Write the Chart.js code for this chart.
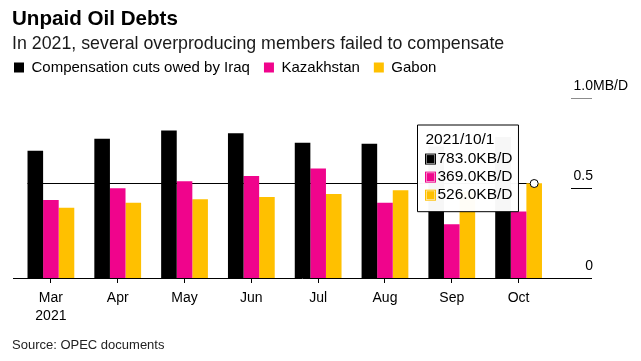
<!DOCTYPE html>
<html>
<head>
<meta charset="utf-8">
<script src="https://cdn.jsdelivr.net/npm/chart.js@4/dist/chart.umd.min.js"></script>
<style>
  html, body { margin: 0; padding: 0; background: #fff; }
  #wrap { position: relative; width: 641px; height: 361px; overflow: hidden; background: #fff; }
  #c { position: absolute; left: 0; top: 0; }
  .txt { position: absolute; left: 12px; white-space: nowrap; font-family: 'Liberation Sans', Arial, sans-serif; color: #000; }
  #title { top: 7px; font-size: 20.6px; font-weight: bold; line-height: 21px; }
  #subtitle { top: 34px; font-size: 17.8px; line-height: 18px; color: #1a1a1a; }
  #source { top: 338px; font-size: 13px; line-height: 13px; color: #222; }
</style>
</head>
<body>
<div id="wrap">
  <canvas id="c" width="641" height="361"></canvas>
  <div class="txt" id="title">Unpaid Oil Debts</div>
  <div class="txt" id="subtitle">In 2021, several overproducing members failed to compensate</div>
  <div class="txt" id="source">Source: OPEC documents</div>
</div>
<script>
// ---- data (KB/D) ----
const months = ['Mar', 'Apr', 'May', 'Jun', 'Jul', 'Aug', 'Sep', 'Oct'];
const yearLabel = '2021';
const dates = ['2021/3/1', '2021/4/1', '2021/5/1', '2021/6/1', '2021/7/1', '2021/8/1', '2021/9/1', '2021/10/1'];
const seriesNames = ['Compensation cuts owed by Iraq', 'Kazakhstan', 'Gabon'];
const iraq = [707, 774, 820, 804, 752, 746, 730, 783];
const kazakhstan = [433, 498, 537, 567, 609, 418, 298, 369];
const gabon = [390, 418, 437, 450, 467, 487, 480, 526];
const yTicks = [0, 500, 1000];
const yTickLabels = ['0', '0.5', '1.0'];
const yUnit = 'MB/D';
const hoverIndex = 7;
const hoverSeries = 2;

const colors = ['#000000', '#f0048c', '#ffc000'];
const FONT = "'Liberation Sans', Arial, sans-serif";

Chart.Tooltip.positioners.boxLeft = function (elements) {
  if (!elements.length) return false;
  const el = elements[0].element;
  const ca = this.chart.chartArea;
  return { x: el.x - 85.5, y: ca.top + 27 };
};

const decor = {
  id: 'decor',
  beforeDatasetsDraw(chart) {
    const ctx = chart.ctx;
    const first = chart.getDatasetMeta(0).data[0];
    const pt = chart.getDatasetMeta(hoverSeries).data[hoverIndex];
    ctx.save();
    ctx.strokeStyle = '#000';
    ctx.lineWidth = 1;
    ctx.beginPath();
    const cy = Math.round(pt.y) + 0.5;
    ctx.moveTo(first.x - first.width / 2, cy);
    ctx.lineTo(pt.x, cy);
    ctx.stroke();
    ctx.restore();
  },
  afterDatasetsDraw(chart) {
    const ctx = chart.ctx;
    const y = chart.scales.y;
    ctx.save();
    const y0 = Math.round(y.getPixelForValue(0)) + 0.5;
    ctx.strokeStyle = '#000';
    ctx.lineWidth = 1;
    ctx.beginPath();
    ctx.moveTo(13, y0);
    ctx.lineTo(592, y0);
    ctx.stroke();
    ctx.font = '14px ' + FONT;
    ctx.fillStyle = '#000';
    ctx.textBaseline = 'alphabetic';
    yTicks.forEach((v, i) => {
      const py = Math.round(y.getPixelForValue(v)) + 0.5;
      if (v !== 0) {
        ctx.strokeStyle = i === yTicks.length - 1 ? '#8c8c8c' : '#000';
        ctx.beginPath();
        ctx.moveTo(571, py);
        ctx.lineTo(592, py);
        ctx.stroke();
      }
      ctx.textAlign = 'right';
      ctx.fillText(yTickLabels[i], 593, py - 8.5);
      if (i === yTicks.length - 1) {
        ctx.textAlign = 'left';
        ctx.fillText(yUnit, 593, py - 8.5);
      }
    });
    const pt = chart.getDatasetMeta(hoverSeries).data[hoverIndex];
    const cy = Math.round(pt.y) + 0.5;
    ctx.beginPath();
    ctx.arc(pt.x, cy, 4, 0, Math.PI * 2);
    ctx.fillStyle = '#fff';
    ctx.fill();
    ctx.strokeStyle = '#000';
    ctx.lineWidth = 1;
    ctx.stroke();
    ctx.restore();
  }
};

const hiddenAxis = (pos, size) => ({
  type: 'linear',
  position: pos,
  display: true,
  ticks: { display: false },
  grid: { display: false },
  border: { display: false },
  afterFit(scale) {
    if (pos === 'left' || pos === 'right') scale.width = size; else scale.height = size;
  }
});

const datasets = [iraq, kazakhstan, gabon].map((d, i) => ({
  label: seriesNames[i],
  data: d,
  backgroundColor: colors[i],
  hoverBackgroundColor: colors[i],
  borderWidth: 0,
  categoryPercentage: 0.7,
  barPercentage: 1.0,
  xAxisID: 'x',
  yAxisID: 'y'
}));

const chart = new Chart(document.getElementById('c'), {
  type: 'bar',
  data: { labels: months, datasets },
  options: {
    responsive: false,
    devicePixelRatio: 1,
    animation: false,
    events: [],
    layout: { padding: { left: 0, right: 0, top: 46, bottom: 0 } },
    scales: {
      x: {
        type: 'category',
        position: 'bottom',
        offset: true,
        grid: { display: true, drawOnChartArea: false, drawTicks: true, tickLength: 5, tickColor: '#000', offset: false, lineWidth: 1 },
        border: { display: false },
        ticks: {
          color: '#000',
          font: { family: FONT, size: 14, lineHeight: 1.3 },
          padding: 6,
          maxRotation: 0,
          autoSkip: false,
          callback: (v, i) => i === 0 ? [months[i], yearLabel] : months[i]
        },
        afterFit(scale) { scale.height = 83; }
      },
      y: {
        type: 'linear',
        position: 'right',
        min: 0,
        max: 1000,
        display: true,
        ticks: { display: false },
        grid: { display: false },
        border: { display: false },
        afterFit(scale) { scale.width = 89; }
      },
      yL: hiddenAxis('left', 17.5),
      xT: hiddenAxis('top', 13)
    },
    plugins: {
      legend: {
        position: 'top',
        align: 'start',
        labels: {
          boxWidth: 10,
          boxHeight: 10,
          padding: 14,
          color: '#000',
          font: { family: FONT, size: 15 }
        }
      },
      title: { display: false },
      tooltip: {
        enabled: true,
        position: 'boxLeft',
        xAlign: 'left',
        yAlign: 'top',
        caretSize: 0,
        caretPadding: 0,
        cornerRadius: 0,
        backgroundColor: 'rgba(255,255,255,0.97)',
        borderColor: '#000',
        borderWidth: 1,
        titleColor: '#000',
        bodyColor: '#000',
        titleFont: { family: FONT, size: 15.5, weight: 'normal', lineHeight: 1.1 },
        bodyFont: { family: FONT, size: 15.5, lineHeight: 1.1 },
        titleMarginBottom: 2,
        bodySpacing: 1,
        padding: { top: 6.5, bottom: 8, left: 8, right: 6 },
        displayColors: true,
        boxWidth: 10,
        boxHeight: 10,
        boxPadding: 0,
        multiKeyBackground: 'rgba(0,0,0,0)',
        callbacks: {
          title: (items) => dates[items[0].dataIndex],
          label: (item) => item.raw.toFixed(1) + 'KB/D',
          labelColor: (item) => ({ borderColor: colors[item.datasetIndex], backgroundColor: colors[item.datasetIndex], borderWidth: 1 })
        }
      }
    }
  },
  plugins: [decor]
});

chart.tooltip.setActiveElements(
  [0, 1, 2].map(d => ({ datasetIndex: d, index: hoverIndex })),
  { x: 0, y: 0 }
);
chart.draw();
</script>
</body>
</html>
